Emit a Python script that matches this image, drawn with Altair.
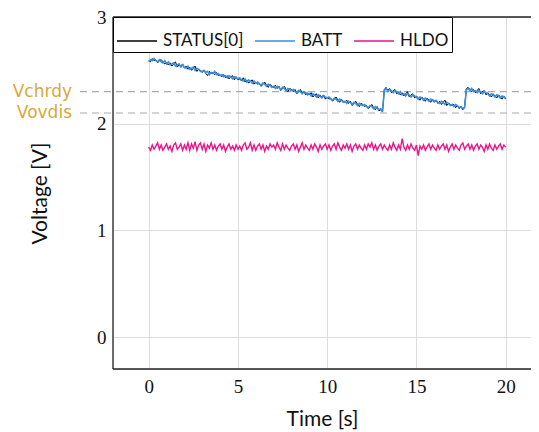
import altair as alt
import pandas as pd

SAMPLE_STEP = 0.1  # s, sampling grid of the trace

STATUS0 = [
    2.59, 2.58, 2.61, 2.59, 2.60, 2.57, 2.59, 2.60, 2.58, 2.56,
    2.57, 2.55, 2.57, 2.54, 2.56, 2.58, 2.53, 2.55, 2.54, 2.56,
    2.52, 2.54, 2.51, 2.53, 2.50, 2.52, 2.54, 2.49, 2.51, 2.50,
    2.48, 2.50, 2.47, 2.45, 2.49, 2.47, 2.48, 2.46, 2.48, 2.45,
    2.46, 2.44, 2.46, 2.43, 2.45, 2.42, 2.44, 2.45, 2.41, 2.44,
    2.41, 2.42, 2.40, 2.43, 2.39, 2.41, 2.38, 2.40, 2.41, 2.37,
    2.39, 2.37, 2.38, 2.35, 2.37, 2.39, 2.36, 2.34, 2.37, 2.35,
    2.34, 2.36, 2.33, 2.35, 2.31, 2.33, 2.35, 2.32, 2.30, 2.33,
    2.32, 2.30, 2.32, 2.28, 2.30, 2.32, 2.29, 2.30, 2.27, 2.29,
    2.27, 2.29, 2.25, 2.27, 2.28, 2.24, 2.27, 2.25, 2.27, 2.23,
    2.25, 2.23, 2.24, 2.21, 2.23, 2.25, 2.22, 2.20, 2.23, 2.21,
    2.20, 2.22, 2.19, 2.21, 2.17, 2.19, 2.21, 2.18, 2.16, 2.19,
    2.18, 2.16, 2.17, 2.14, 2.16, 2.18, 2.15, 2.13, 2.16, 2.12,
    2.13, 2.11, 2.32, 2.34, 2.31, 2.33, 2.29, 2.31, 2.32, 2.28,
    2.29, 2.27, 2.29, 2.26, 2.28, 2.30, 2.25, 2.27, 2.28, 2.24,
    2.26, 2.24, 2.22, 2.25, 2.23, 2.21, 2.24, 2.22, 2.20, 2.23,
    2.20, 2.22, 2.19, 2.21, 2.18, 2.20, 2.22, 2.17, 2.19, 2.18,
    2.17, 2.18, 2.15, 2.17, 2.14, 2.16, 2.13, 2.16, 2.33, 2.34,
    2.32, 2.30, 2.32, 2.29, 2.31, 2.33, 2.28, 2.30, 2.31, 2.27,
    2.29, 2.27, 2.25, 2.28, 2.26, 2.24, 2.27, 2.25, 2.23, 2.26,
    2.23,
]

BATT = [
    2.58, 2.60, 2.59, 2.61, 2.59, 2.58, 2.60, 2.58, 2.57, 2.59,
    2.56, 2.58, 2.55, 2.56, 2.57, 2.54, 2.55, 2.56, 2.53, 2.55,
    2.53, 2.52, 2.54, 2.51, 2.52, 2.53, 2.50, 2.52, 2.51, 2.49,
    2.49, 2.50, 2.48, 2.49, 2.46, 2.48, 2.47, 2.49, 2.46, 2.47,
    2.45, 2.46, 2.44, 2.45, 2.43, 2.45, 2.44, 2.42, 2.44, 2.43,
    2.42, 2.43, 2.41, 2.40, 2.42, 2.39, 2.41, 2.40, 2.38, 2.40,
    2.38, 2.39, 2.37, 2.36, 2.38, 2.37, 2.35, 2.37, 2.36, 2.34,
    2.35, 2.33, 2.35, 2.34, 2.32, 2.34, 2.33, 2.31, 2.33, 2.32,
    2.31, 2.32, 2.30, 2.29, 2.31, 2.30, 2.28, 2.30, 2.29, 2.27,
    2.28, 2.26, 2.28, 2.27, 2.25, 2.27, 2.26, 2.24, 2.26, 2.25,
    2.24, 2.25, 2.23, 2.22, 2.24, 2.23, 2.21, 2.23, 2.22, 2.20,
    2.21, 2.19, 2.21, 2.20, 2.18, 2.20, 2.19, 2.17, 2.19, 2.18,
    2.17, 2.18, 2.16, 2.15, 2.17, 2.16, 2.14, 2.16, 2.15, 2.13,
    2.14, 2.12, 2.31, 2.33, 2.30, 2.32, 2.31, 2.29, 2.31, 2.30,
    2.28, 2.30, 2.27, 2.28, 2.26, 2.28, 2.27, 2.25, 2.27, 2.26,
    2.25, 2.23, 2.25, 2.24, 2.22, 2.24, 2.23, 2.21, 2.23, 2.22,
    2.21, 2.22, 2.20, 2.19, 2.21, 2.20, 2.18, 2.20, 2.19, 2.17,
    2.18, 2.16, 2.18, 2.17, 2.15, 2.16, 2.14, 2.15, 2.32, 2.33,
    2.31, 2.33, 2.30, 2.31, 2.29, 2.31, 2.30, 2.28, 2.30, 2.29,
    2.28, 2.26, 2.28, 2.27, 2.25, 2.27, 2.26, 2.24, 2.26, 2.25,
    2.24,
]

HLDO = [
    1.78, 1.75, 1.80, 1.76, 1.79, 1.82, 1.76, 1.80, 1.75, 1.78,
    1.81, 1.76, 1.79, 1.74, 1.80, 1.82, 1.76, 1.78, 1.81, 1.75,
    1.80, 1.76, 1.82, 1.75, 1.81, 1.77, 1.83, 1.75, 1.80, 1.82,
    1.76, 1.81, 1.74, 1.80, 1.77, 1.82, 1.76, 1.80, 1.75, 1.79,
    1.81, 1.76, 1.80, 1.74, 1.78, 1.81, 1.76, 1.79, 1.75, 1.80,
    1.76, 1.79, 1.75, 1.80, 1.82, 1.76, 1.78, 1.82, 1.75, 1.80,
    1.75, 1.79, 1.81, 1.76, 1.80, 1.74, 1.79, 1.76, 1.81, 1.78,
    1.80, 1.76, 1.82, 1.78, 1.75, 1.81, 1.76, 1.80, 1.77, 1.75,
    1.79, 1.81, 1.76, 1.80, 1.74, 1.78, 1.82, 1.76, 1.80, 1.77,
    1.75, 1.80, 1.76, 1.81, 1.78, 1.74, 1.80, 1.76, 1.79, 1.81,
    1.76, 1.80, 1.75, 1.79, 1.81, 1.76, 1.82, 1.78, 1.75, 1.80,
    1.77, 1.81, 1.76, 1.80, 1.74, 1.79, 1.81, 1.76, 1.80, 1.77,
    1.75, 1.80, 1.76, 1.81, 1.78, 1.82, 1.76, 1.80, 1.75, 1.79,
    1.81, 1.76, 1.80, 1.77, 1.75, 1.80, 1.76, 1.82, 1.78, 1.75,
    1.80, 1.76, 1.86, 1.78, 1.75, 1.80, 1.76, 1.81, 1.77, 1.75,
    1.80, 1.70, 1.79, 1.76, 1.80, 1.75, 1.78, 1.81, 1.76, 1.80,
    1.77, 1.75, 1.80, 1.76, 1.79, 1.81, 1.76, 1.80, 1.74, 1.78,
    1.81, 1.76, 1.80, 1.77, 1.75, 1.80, 1.82, 1.76, 1.79, 1.81,
    1.76, 1.80, 1.75, 1.79, 1.81, 1.76, 1.80, 1.78, 1.74, 1.80,
    1.76, 1.81, 1.77, 1.75, 1.80, 1.76, 1.79, 1.81, 1.76, 1.80,
    1.78,
]

SERIES = ["STATUS[0]", "BATT", "HLDO"]
COLORS = ["#000000", "#3a8ee0", "#e8168b"]
STROKES = [1.0, 1.6, 1.4]
THRESH_NAMES = ["Vchrdy", "Vovdis"]
THRESH_VALUES = [2.3, 2.1]
X_TICKS = [0, 5, 10, 15, 20]
Y_TICKS = [0, 1, 2, 3]

SANS = "Lato"
SERIF = "Liberation Serif"

W, H = 418, 352

rows = []
for name, vals in zip(SERIES, [STATUS0, BATT, HLDO]):
    for i, v in enumerate(vals):
        rows.append({"t": round(i * SAMPLE_STEP, 1), "v": v, "series": name})
df = pd.DataFrame(rows)
thr = pd.DataFrame({"name": THRESH_NAMES, "v": THRESH_VALUES})
one = pd.DataFrame({"a": [0]})

xscale = alt.Scale(domain=[-2, 21.42], nice=False, zero=False)
yscale = alt.Scale(domain=[-0.3, 3.0], nice=False, zero=False)
cscale = alt.Scale(domain=SERIES, range=COLORS)

xaxis = alt.Axis(values=X_TICKS, title="Time [s]", labelFont=SERIF, labelFontSize=19,
                 titleFont=SANS, titleFontSize=21, titleFontWeight="normal",
                 ticks=False, labelPadding=8, titlePadding=12, domain=False,
                 labelColor="#111", titleColor="#111", format="d")
yaxis = alt.Axis(values=Y_TICKS, title="Voltage [V]", labelFont=SERIF, labelFontSize=19,
                 titleFont=SANS, titleFontSize=21, titleFontWeight="normal",
                 ticks=False, labelPadding=7, titlePadding=46, domain=False,
                 labelColor="#111", titleColor="#111", format="d")

rules = alt.Chart(thr).mark_rule(color="#aaaaaa", strokeDash=[7, 5], strokeWidth=1.2).encode(
    x=alt.value(-33), x2=alt.value(W),
    y=alt.Y("v:Q", scale=yscale, axis=yaxis),
)
texts = alt.Chart(thr).mark_text(align="right", baseline="middle", font="DejaVu Sans",
                                 fontSize=17, color="#d9a838").encode(
    x=alt.value(-41),
    y=alt.Y("v:Q", scale=yscale),
    text="name:N",
)

legend = alt.Legend(title=None, orient="none", legendX=0, legendY=0, direction="horizontal",
                    strokeColor="#000000", fillColor="white", padding=3, cornerRadius=0,
                    symbolType="stroke", symbolSize=1600, symbolStrokeWidth=1.3,
                    labelFont=SANS, labelFontSize=17, labelColor="#111",
                    columnPadding=8, labelOffset=5)

layers = []
for i, name in enumerate(SERIES):
    layers.append(
        alt.Chart(df).transform_filter(alt.datum.series == name).mark_line(
            strokeWidth=STROKES[i], clip=True
        ).encode(
            x=alt.X("t:Q", scale=xscale, axis=xaxis),
            y=alt.Y("v:Q", scale=yscale),
            color=alt.Color("series:N", scale=cscale, legend=legend if i == 0 else None),
        )
    )

frame_style = dict(color="#222222", strokeWidth=1.3)
frame_top = alt.Chart(one).mark_rule(**frame_style).encode(
    x=alt.value(0), x2=alt.value(W), y=alt.value(0))
frame_bottom = alt.Chart(one).mark_rule(**frame_style).encode(
    x=alt.value(0), x2=alt.value(W), y=alt.value(H))
frame_left = alt.Chart(one).mark_rule(**frame_style).encode(
    x=alt.value(0), y=alt.value(0), y2=alt.value(H))

chart = alt.layer(rules, texts, *layers, frame_top, frame_bottom, frame_left).properties(
    width=W, height=H,
    autosize=alt.AutoSizeParams(type="none"),
    padding={"left": 105, "top": 9, "right": 0, "bottom": 63},
).configure_view(
    stroke=None
).configure_axis(
    grid=True, gridColor="#c8c8c8", gridWidth=1
).configure(background="white")

chart.save("out.html", embed_options={"renderer": "svg", "actions": False})
